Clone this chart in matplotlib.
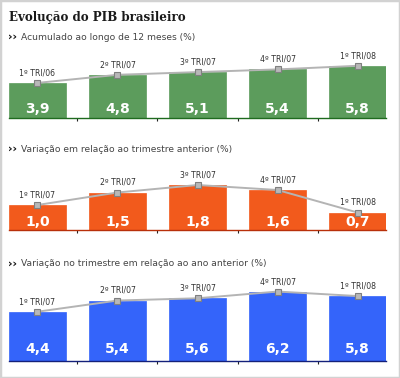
import matplotlib
matplotlib.use('Agg')
import matplotlib.pyplot as plt
from matplotlib.patches import Rectangle

# data
labels_acum = ['1º TRI/06', '2º TRI/07', '3º TRI/07', '4º TRI/07', '1º TRI/08']
values_acum = [3.9, 4.8, 5.1, 5.4, 5.8]

labels_trim = ['1º TRI/07', '2º TRI/07', '3º TRI/07', '4º TRI/07', '1º TRI/08']
values_trim = [1.0, 1.5, 1.8, 1.6, 0.7]

labels_anual = ['1º TRI/07', '2º TRI/07', '3º TRI/07', '4º TRI/07', '1º TRI/08']
values_anual = [4.4, 5.4, 5.6, 6.2, 5.8]

W, H = 400, 378
fig = plt.figure(figsize=(W / 100, H / 100), dpi=100)

# light gray frame around the whole picture
fig.patches.append(Rectangle((0, 0), 1, 1, transform=fig.transFigure, fill=False,
                             edgecolor='#d2d2d2', linewidth=2.5))

fig.text(9 / W, 1 - 17 / H, 'Evolução do PIB brasileiro', family='DejaVu Serif',
         weight='bold', fontsize=8.6, color='#1a1a1a', va='center', ha='left')


def subtitle(y, text):
    fig.text(8 / W, 1 - y / H, '››', weight='bold', fontsize=8, color='#111',
             va='center', ha='left')
    fig.text(21 / W, 1 - y / H, text, fontsize=6.6, color='#444',
             va='center', ha='left')


def panel(base, top, ymax, values, labels, color, dark, val_off):
    ax = fig.add_axes([9 / W, (H - base) / H, 377 / W, (base - top) / H])
    x = list(range(len(values)))
    ax.bar(x, values, width=0.71, color=color, edgecolor=color, linewidth=0.5)
    ax.plot(x, values, color='#b4b4b4', lw=1.4, marker='s', ms=4.5,
            mfc='#b8b8b8', mec='#808080', mew=0.8, clip_on=False, zorder=3)
    for i, v in enumerate(values):
        ax.annotate(labels[i], (i, v), xytext=(0, 4), textcoords='offset points',
                    ha='center', va='bottom', fontsize=5.6, color='#333')
        ax.annotate(('%.1f' % v).replace('.', ','), (i, 0), xytext=(0, val_off * 0.72),
                    textcoords='offset points', ha='center', va='center',
                    fontsize=10, weight='bold', color='white')
    ax.set_xlim(-0.356, 4.356)
    ax.set_ylim(0, ymax)
    for s in ['top', 'left', 'right']:
        ax.spines[s].set_visible(False)
    ax.spines['bottom'].set_color(dark)
    ax.spines['bottom'].set_linewidth(1.0)
    ax.set_xticks([0.5, 1.5, 2.5, 3.5])
    ax.set_xticklabels([])
    ax.tick_params(axis='x', length=2, width=0.8, color='#222', direction='out')
    ax.set_yticks([])
    ax.patch.set_alpha(0)
    return ax


subtitle(37, 'Acumulado ao longo de 12 meses (%)')
panel(118, 50, 68 / 9.0, values_acum, labels_acum, '#5c9c5c', '#1f6b1f', 9)

subtitle(149, 'Variação em relação ao trimestre anterior (%)')
panel(230, 165, 65 / 25.0, values_trim, labels_trim, '#f25a1c', '#b8300a', 8)

subtitle(264, 'Variação no trimestre em relação ao ano anterior (%)')
panel(361, 280, 81 / 11.2, values_anual, labels_anual, '#3464fa', '#14207a', 12)

fig.savefig('out.png', dpi=100)
